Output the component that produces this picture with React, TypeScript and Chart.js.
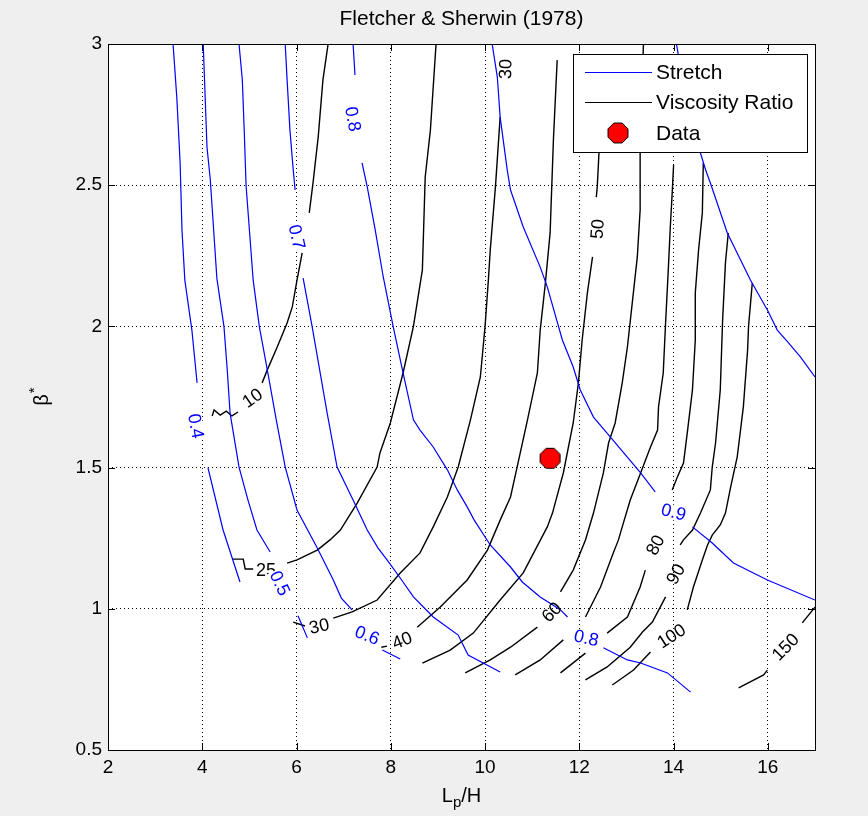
import React, { useEffect, useRef } from "react";
import { Chart, registerables } from "chart.js";

Chart.register(...registerables);

type Pt = [number, number] | null;

// ---- axes ----
const TITLE = "Fletcher & Sherwin (1978)";
const xTickValues = [2, 4, 6, 8, 10, 12, 14, 16];
const xTickLabels = ["2", "4", "6", "8", "10", "12", "14", "16"];
const yTickValues = [0.5, 1, 1.5, 2, 2.5, 3];
const yTickLabels = ["0.5", "1", "1.5", "2", "2.5", "3"];
const X_MIN = 2;
const X_MAX = 17;
const Y_MIN = 0.5;
const Y_MAX = 3;

// ---- Stretch contours (null = break left for an inline label) ----
const stretch04: Pt[] = [[3.38, 3.0], [3.46, 2.81], [3.53, 2.58], [3.57, 2.34], [3.63, 2.164], [3.78, 1.987], [3.89, 1.8], null, [4.12, 1.5], [4.44, 1.28], [4.8, 1.095]];
const stretch05: Pt[] = [[4.02, 3.0], [4.1, 2.635], [4.17, 2.52], [4.31, 2.17], [4.46, 2.0], [4.53, 1.846], [4.59, 1.693], [4.78, 1.502], [4.97, 1.385], [5.16, 1.279], [5.44, 1.201], null, [6.03, 0.975], [6.23, 0.897]];
const stretch06: Pt[] = [[4.78, 3.0], [4.85, 2.873], [4.89, 2.695], [4.93, 2.497], [5.08, 2.164], [5.21, 2.0], [5.38, 1.846], [5.57, 1.669], [5.76, 1.502], [6.01, 1.35], [6.44, 1.215], [6.78, 1.102], [6.95, 1.038], [7.18, 0.996], null, [7.82, 0.854], [8.2, 0.822]];
const stretch07: Pt[] = [[5.76, 3.0], [5.8, 2.873], [5.86, 2.695], [5.93, 2.554], [5.97, 2.483], null, [6.14, 2.171], [6.33, 2.0], [6.65, 1.693], [6.86, 1.502], [7.2, 1.385], [7.5, 1.279], [7.73, 1.215], [7.92, 1.173], [8.2, 1.109], [8.48, 1.042], [8.9, 0.971], [9.43, 0.907], [9.64, 0.836], [10.32, 0.776]];
const stretch08: Pt[] = [[7.2, 3.0], [7.24, 2.89], null, [7.39, 2.579], [7.5, 2.494], [7.67, 2.341], [7.84, 2.175], [8.05, 2.0], [8.26, 1.835], [8.48, 1.669], [8.62, 1.633], [8.9, 1.573], [9.2, 1.492], [9.41, 1.421], [9.62, 1.361], [9.77, 1.314], [10.11, 1.226], [10.54, 1.148], [10.79, 1.095], [11.17, 1.042], [11.6, 0.996], [11.75, 0.971], null, [12.51, 0.862], [13.02, 0.819], [13.3, 0.808], [13.87, 0.773], [14.36, 0.705]];
const stretch09: Pt[] = [[10.15, 3.0], [10.26, 2.883], [10.32, 2.741], [10.47, 2.554], [10.54, 2.483], [10.81, 2.352], [11.17, 2.21], [11.32, 2.14], [11.64, 1.952], [11.87, 1.856], [12.02, 1.775], [12.3, 1.679], [12.66, 1.608], [13.3, 1.481], [13.61, 1.414], null, [14.4, 1.29], [14.82, 1.233], [15.27, 1.162], [15.99, 1.102], [17.0, 1.031]];
const stretch10: Pt[] = [[14.06, 3.0], [14.27, 2.802], [14.57, 2.614], [14.68, 2.554], [14.78, 2.508], [15.14, 2.331], [15.63, 2.164], [15.99, 2.058], [16.2, 1.987], [16.42, 1.945], [16.69, 1.892], [17.0, 1.821]];
const stretchLines = [stretch04, stretch05, stretch06, stretch07, stretch08, stretch09, stretch10];

// ---- Viscosity ratio contours ----
const visc10: Pt[] = [[6.67, 3.0], [6.56, 2.873], [6.46, 2.671], [6.35, 2.508], [6.27, 2.402], null, [6.12, 2.26], [6.01, 2.164], [5.91, 2.069], [5.8, 2.012], [5.59, 1.927], [5.38, 1.846], [5.27, 1.8], null, [4.76, 1.697], [4.63, 1.683], [4.51, 1.7], [4.38, 1.686], [4.25, 1.704], [4.21, 1.683]];
const visc25: Pt[] = [[8.96, 3.0], [8.84, 2.695], [8.73, 2.529], [8.67, 2.2], [8.48, 2.0], [8.26, 1.835], [7.99, 1.658], [7.77, 1.552], [7.71, 1.502], [7.29, 1.375], [6.93, 1.279], [6.71, 1.244], [6.44, 1.208], [6.01, 1.173], [5.8, 1.162], null, [5.08, 1.141], [4.91, 1.141], [4.87, 1.176], [4.65, 1.176]];
const visc30: Pt[] = [[10.32, 2.741], [10.22, 2.494], [10.11, 2.271], [10.07, 2.164], [10.0, 2.0], [9.9, 1.821], [9.69, 1.669], [9.43, 1.502], [9.2, 1.396], [8.9, 1.29], [8.62, 1.198], [8.2, 1.127], [7.71, 1.031], [7.18, 0.989], [6.78, 0.967], null, [6.18, 0.939], [5.93, 0.953]];
const visc40: Pt[] = [[11.53, 2.943], [11.45, 2.66], [11.38, 2.331], [11.28, 2.154], [11.17, 1.987], [11.11, 1.835], [10.9, 1.669], [10.68, 1.502], [10.54, 1.396], [10.32, 1.314], [10.05, 1.208], [9.62, 1.102], [9.05, 1.006], [8.56, 0.935], null, [7.92, 0.868], [7.8, 0.864]];
const visc50: Pt[] = [[12.45, 2.784], [12.42, 2.625], [12.38, 2.494], [12.36, 2.458], null, [12.28, 2.246], [12.17, 2.118], [12.06, 1.952], [11.98, 1.8], [11.87, 1.658], [11.66, 1.481], [11.43, 1.339], [11.32, 1.29], [10.81, 1.127], [10.32, 1.031], [9.75, 0.914], [9.26, 0.854], [8.67, 0.808]];
const visc60: Pt[] = [[13.36, 3.0], [13.29, 2.614], [13.29, 2.412], [13.23, 2.246], [13.13, 2.094], [13.02, 1.927], [12.91, 1.8], [12.76, 1.658], [12.62, 1.587], [12.51, 1.481], [12.3, 1.339], [12.13, 1.244], [11.87, 1.137], [11.6, 1.06], null, [11.11, 0.935], [10.54, 0.864], [10.11, 0.819], [9.58, 0.773]];
const visc70: Pt[] = [[14.0, 2.572], [13.97, 2.472], [13.93, 2.352], [13.89, 2.21], [13.83, 2.012], [13.78, 1.835], [13.68, 1.715], [13.66, 1.633], [13.51, 1.573], [13.3, 1.481], [13.08, 1.385], [12.91, 1.29], [12.83, 1.244], [12.72, 1.198], [12.45, 1.077], [12.13, 0.971], null, [11.66, 0.89], [11.17, 0.819], [10.64, 0.766]];
const visc80: Pt[] = [[14.63, 2.579], [14.61, 2.402], [14.53, 2.271], [14.46, 2.118], [14.46, 1.952], [14.4, 1.775], [14.29, 1.623], [14.21, 1.516], [14.08, 1.467], [13.97, 1.421], null, [13.4, 1.137], [13.29, 1.077], [13.02, 0.971], [12.59, 0.914], null, [12.13, 0.843], [11.6, 0.773]];
const visc90: Pt[] = [[15.16, 2.331], [15.1, 2.225], [15.04, 2.023], [14.99, 1.775], [14.89, 1.587], [14.82, 1.502], [14.78, 1.421], [14.57, 1.339], [14.4, 1.279], [14.21, 1.244], [14.14, 1.226], null, [13.83, 1.042], [13.55, 0.953], [13.34, 0.918], [13.08, 0.864], [12.59, 0.794], [12.13, 0.748]];
const visc100: Pt[] = [[15.67, 2.154], [15.59, 2.0], [15.57, 1.916], [15.48, 1.715], [15.35, 1.538], [15.21, 1.431], [15.1, 1.339], [14.99, 1.297], [14.82, 1.261], [14.72, 1.226], [14.61, 1.173], [14.42, 1.077], [14.29, 0.996], null, [13.51, 0.847], [13.15, 0.783], [12.7, 0.73]];
const visc150: Pt[] = [[15.38, 0.72], [15.91, 0.766], [15.99, 0.783], null, [16.73, 0.95], [17.0, 1.006]];
const viscLines = [visc10, visc25, visc30, visc40, visc50, visc60, visc70, visc80, visc90, visc100, visc150];

// ---- measured data point ----
const dataX = [11.38];
const dataY = [1.533];

// ---- inline contour labels (data coordinates, angle in degrees) ----
const stretchLabelText = ["0.4", "0.5", "0.6", "0.7", "0.8", "0.8", "0.9"];
const stretchLabelX = [3.87, 5.65, 7.5, 6.01, 7.2, 12.15, 14.0];
const stretchLabelY = [1.647, 1.091, 0.907, 2.317, 2.734, 0.897, 1.343];
const stretchLabelAngle = [80, 65, 22, 78, 80, 12, 15];

const viscLabelText = ["10", "25", "30", "30", "40", "50", "60", "80", "90", "100", "150"];
const viscLabelX = [5.06, 5.35, 6.48, 10.43, 8.24, 12.38, 11.41, 13.61, 14.04, 13.95, 16.37];
const viscLabelY = [1.747, 1.137, 0.939, 2.911, 0.889, 2.345, 0.989, 1.226, 1.123, 0.904, 0.865];
const viscLabelAngle = [-35, 0, -12, -88, -22, -86, -45, -63, -60, -33, -45];

const legendNames = ["Stretch", "Viscosity Ratio", "Data"];

const FONT = '"Liberation Sans", Arial, Helvetica, sans-serif';
const BLUE = "#0000ff";
const BLACK = "#000000";
const FIG_BG = "#efefef";

const toXY = (pts: Pt[]) =>
  pts.map((p) => (p ? { x: p[0], y: p[1] } : { x: null, y: null }));

function octagonPath(ctx: CanvasRenderingContext2D, cx: number, cy: number, r: number) {
  ctx.beginPath();
  for (let i = 0; i < 8; i++) {
    const a = Math.PI / 8 + (i * Math.PI) / 4;
    const px = cx + r * Math.cos(a);
    const py = cy + r * Math.sin(a);
    if (i === 0) ctx.moveTo(px, py);
    else ctx.lineTo(px, py);
  }
  ctx.closePath();
}

function drawOctagon(ctx: CanvasRenderingContext2D, cx: number, cy: number, r: number) {
  octagonPath(ctx, cx, cy, r);
  ctx.fillStyle = "#ff0000";
  ctx.fill();
  ctx.strokeStyle = BLACK;
  ctx.lineWidth = 1;
  ctx.stroke();
}

function makeMarker(r: number) {
  const size = Math.ceil(r * 2 + 3);
  const c = document.createElement("canvas");
  c.width = size;
  c.height = size;
  const ctx = c.getContext("2d")!;
  drawOctagon(ctx, size / 2, size / 2, r);
  return c;
}

export default function App() {
  const ref = useRef<HTMLCanvasElement>(null);

  useEffect(() => {
    const canvas = ref.current!;
    const marker = makeMarker(10.8);

    const lineSet = (pts: Pt[], color: string, width: number) => ({
      data: toXY(pts),
      showLine: true,
      borderColor: color,
      borderWidth: width,
      pointRadius: 0,
      pointHoverRadius: 0,
      spanGaps: false,
      tension: 0,
      fill: false,
    });

    const datasets: any[] = [
      {
        label: "Data",
        data: dataX.map((x, i) => ({ x, y: dataY[i] })),
        pointStyle: marker,
        pointRadius: 10,
        pointHoverRadius: 10,
        showLine: false,
      },
      ...stretchLines.map((p) => lineSet(p, BLUE, 1.2)),
      ...viscLines.map((p) => lineSet(p, BLACK, 1.4)),
    ];

    const overlay = {
      id: "figureDecor",
      beforeDraw(chart: any) {
        const { ctx, chartArea: a } = chart;
        ctx.save();
        ctx.fillStyle = FIG_BG;
        ctx.fillRect(0, 0, chart.width, chart.height);
        ctx.fillStyle = "#ffffff";
        ctx.fillRect(a.left, a.top, a.right - a.left, a.bottom - a.top);
        ctx.restore();
      },
      afterDatasetsDraw(chart: any) {
        const { ctx, chartArea: a } = chart;
        const xs = chart.scales.x;
        const ys = chart.scales.y;
        ctx.save();

        // contour labels
        const drawLabel = (text: string, x: number, y: number, angle: number, color: string, clear: boolean) => {
          const px = xs.getPixelForValue(x);
          const py = ys.getPixelForValue(y);
          ctx.save();
          ctx.translate(px, py);
          ctx.rotate((angle * Math.PI) / 180);
          ctx.font = `18px ${FONT}`;
          ctx.textAlign = "center";
          ctx.textBaseline = "middle";
          if (clear) {
            const w = ctx.measureText(text).width;
            ctx.fillStyle = "#ffffff";
            ctx.fillRect(-w / 2 - 1, -7, w + 2, 15);
          }
          ctx.fillStyle = color;
          ctx.fillText(text, 0, 1);
          ctx.restore();
        };
        viscLabelText.forEach((t, i) =>
          drawLabel(t, viscLabelX[i], viscLabelY[i], viscLabelAngle[i], BLACK, false)
        );
        stretchLabelText.forEach((t, i) =>
          drawLabel(t, stretchLabelX[i], stretchLabelY[i], stretchLabelAngle[i], BLUE, true)
        );

        // axes box and inward ticks on all four sides
        ctx.strokeStyle = BLACK;
        ctx.lineWidth = 1;
        ctx.strokeRect(a.left + 0.5, a.top + 0.5, a.right - a.left, a.bottom - a.top);
        const TL = 7;
        ctx.beginPath();
        xTickValues.forEach((v) => {
          const px = Math.round(xs.getPixelForValue(v)) + 0.5;
          ctx.moveTo(px, a.bottom);
          ctx.lineTo(px, a.bottom - TL);
          ctx.moveTo(px, a.top);
          ctx.lineTo(px, a.top + TL);
        });
        yTickValues.forEach((v) => {
          const py = Math.round(ys.getPixelForValue(v)) + 0.5;
          ctx.moveTo(a.left, py);
          ctx.lineTo(a.left + TL, py);
          ctx.moveTo(a.right, py);
          ctx.lineTo(a.right - TL, py);
        });
        ctx.stroke();

        // legend
        const lw = 234;
        const lh = 98;
        const lx = a.right - 8 - lw;
        const ly = a.top + 10;
        ctx.fillStyle = "#ffffff";
        ctx.fillRect(lx, ly, lw, lh);
        ctx.strokeStyle = BLACK;
        ctx.strokeRect(lx + 0.5, ly + 0.5, lw, lh);
        const rows = [ly + 18, ly + 48, ly + 79];
        ctx.font = `21px ${FONT}`;
        ctx.textAlign = "left";
        ctx.textBaseline = "middle";
        ctx.lineWidth = 1.2;
        ctx.strokeStyle = BLUE;
        ctx.beginPath();
        ctx.moveTo(lx + 12, rows[0] + 0.5);
        ctx.lineTo(lx + 79, rows[0] + 0.5);
        ctx.stroke();
        ctx.strokeStyle = BLACK;
        ctx.beginPath();
        ctx.moveTo(lx + 12, rows[1] + 0.5);
        ctx.lineTo(lx + 79, rows[1] + 0.5);
        ctx.stroke();
        drawOctagon(ctx, lx + 45, rows[2], 10.8);
        ctx.fillStyle = BLACK;
        legendNames.forEach((n, i) => ctx.fillText(n, lx + 83, rows[i] + 1));

        // title
        const cx = (a.left + a.right) / 2;
        ctx.font = `21px ${FONT}`;
        ctx.textAlign = "center";
        ctx.textBaseline = "middle";
        ctx.fillText(TITLE, cx, 19);

        // x axis title: L_p/H
        const big = `20px ${FONT}`;
        const small = `15px ${FONT}`;
        ctx.textAlign = "left";
        ctx.textBaseline = "alphabetic";
        ctx.font = big;
        const wL = ctx.measureText("L").width;
        const wH = ctx.measureText("/H").width;
        ctx.font = small;
        const wp = ctx.measureText("p").width;
        let sx = cx - (wL + wp + wH) / 2;
        const by = 802;
        ctx.font = big;
        ctx.fillText("L", sx, by);
        sx += wL;
        ctx.font = small;
        ctx.fillText("p", sx, by + 5);
        sx += wp;
        ctx.font = big;
        ctx.fillText("/H", sx, by);

        // y axis title: beta*
        ctx.save();
        ctx.translate(48, (a.top + a.bottom) / 2);
        ctx.rotate(-Math.PI / 2);
        ctx.font = big;
        const wb = ctx.measureText("\u03b2").width;
        ctx.textAlign = "left";
        ctx.fillText("\u03b2", -wb / 2 - 3, 0);
        ctx.font = small;
        ctx.fillText("*", wb / 2 - 2, -9);
        ctx.restore();

        ctx.restore();
      },
    };

    const tickFont = { family: FONT, size: 19 };

    const chart = new Chart(canvas, {
      type: "scatter",
      data: { datasets },
      plugins: [overlay],
      options: {
        responsive: false,
        maintainAspectRatio: false,
        devicePixelRatio: 1,
        animation: false,
        events: [],
        layout: { padding: { top: 44, right: 53, bottom: 0, left: 0 } },
        plugins: {
          legend: { display: false },
          tooltip: { enabled: false },
          title: { display: false },
        },
        scales: {
          x: {
            type: "linear",
            min: X_MIN,
            max: X_MAX,
            afterFit: (s: any) => {
              s.height = 66;
            },
            afterBuildTicks: (s: any) => {
              s.ticks = xTickValues.map((v) => ({ value: v }));
            },
            ticks: {
              color: BLACK,
              font: tickFont,
              padding: 6,
              maxRotation: 0,
              autoSkip: false,
              callback: (_v: any, i: number) => xTickLabels[i],
            },
            grid: { color: BLACK, lineWidth: 1, drawTicks: false },
            border: { display: false, dash: [1, 3] },
          },
          y: {
            type: "linear",
            min: Y_MIN,
            max: Y_MAX,
            afterFit: (s: any) => {
              s.width = 108;
            },
            afterBuildTicks: (s: any) => {
              s.ticks = yTickValues.map((v) => ({ value: v }));
            },
            ticks: {
              color: BLACK,
              font: tickFont,
              padding: 6,
              autoSkip: false,
              callback: (_v: any, i: number) => yTickLabels[i],
            },
            grid: { color: BLACK, lineWidth: 1, drawTicks: false },
            border: { display: false, dash: [1, 3] },
          },
        },
      } as any,
    });

    return () => chart.destroy();
  }, []);

  return (
    <div
      style={{
        position: "absolute",
        left: 0,
        top: 0,
        width: 868,
        height: 816,
        background: FIG_BG,
      }}
    >
      <canvas ref={ref} width={868} height={816} style={{ display: "block", width: 868, height: 816 }} />
    </div>
  );
}
